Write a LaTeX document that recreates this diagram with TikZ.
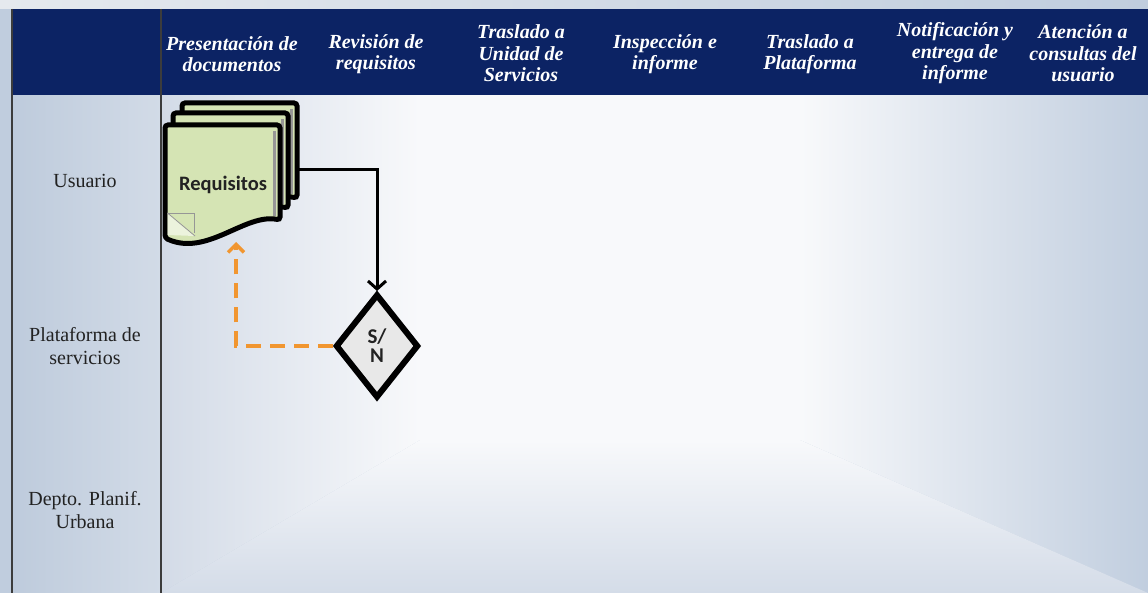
\documentclass[tikz,border=0pt]{standalone}
\usepackage{fontspec}
\usepackage{tikz}
\usetikzlibrary{calc}
\usetikzlibrary{arrows.meta}
\usetikzlibrary{shapes.geometric}
\usetikzlibrary{positioning}
\setmainfont{Liberation Serif}
\newfontfamily\calibri{Carlito}
\definecolor{midnight}{RGB}{12, 35, 100}
\definecolor{mist}{RGB}{248, 249, 251}
\definecolor{steel}{RGB}{192, 205, 222}
\definecolor{edgeleft}{RGB}{211, 219, 231}
\definecolor{edgeright}{RGB}{193, 206, 223}
\definecolor{edgebottom}{RGB}{212, 220, 232}
\definecolor{lanedark}{RGB}{190, 203, 220}
\definecolor{lanelight}{RGB}{210, 219, 231}
\definecolor{cloud}{RGB}{229, 233, 238}
\definecolor{pistachio}{RGB}{213, 228, 180}
\definecolor{carrot}{RGB}{241, 150, 48}
\definecolor{silver}{RGB}{232, 232, 232}
\definecolor{ash}{RGB}{150, 150, 150}
\definecolor{ink}{RGB}{34, 34, 34}
\definecolor{rule}{RGB}{60, 60, 60}

\tikzset{
    lanehead/.style={text=white, align=center, font=\bfseries\itshape\fontsize{20}{21.5}\selectfont},
    lanename/.style={text=ink, align=center, font=\fontsize{20}{23}\selectfont},
    pagestyle/.style={draw=black, fill=pistachio, line width=5pt, rounded corners=3pt},
    doclabel/.style={text=ink, font=\calibri\bfseries\fontsize{20.5}{22}\selectfont},
    decision/.style={diamond, draw=black, fill=silver, line width=6pt, minimum width=83pt, minimum height=104pt,
        inner sep=0pt, align=center, text=ink, font=\calibri\bfseries\fontsize{21}{19}\selectfont},
    flow/.style={draw=black, line width=3pt, -{Straight Barb[length=8pt, width=18pt]}},
    returnflow/.style={draw=carrot, line width=3.5pt, dash pattern=on 15pt off 9pt, -{Straight Barb[length=8pt, width=16pt]}}
}

% one sheet of the document stack, top left corner at (#1,#2)
\newcommand{\docpage}[2]{%
    \begin{scope}[shift={(#1,#2)}]
        \filldraw[pagestyle] (0,113) -- (0,0) -- (115,0) -- (115,95) .. controls (80,88) and (42,132) .. (0,113) -- cycle;
        \draw[ash, line width=3pt] (109.5,6) -- (109.5,91);
    \end{scope}}

\begin{document}
\begin{tikzpicture}[x=1pt, y=-1pt]
    \useasboundingbox (0,0) rectangle (1148,593);
    % background and lanes
    \fill[steel] (0,0) rectangle (1148,593);
    \fill[left color=cloud, right color=steel] (0,0) rectangle (1148,9);
    \fill[left color=lanedark, right color=lanelight] (12,95) rectangle (161,593);
    \fill[mist] (420,95) rectangle (800,440);
    \shade[left color=edgeleft, right color=mist] (161,95) -- (420,95) -- (420,440) -- (161,593) -- cycle;
    \shade[left color=mist, right color=edgeright] (800,95) -- (1148,95) -- (1148,593) -- (800,440) -- cycle;
    \shade[top color=mist, bottom color=edgebottom] (161,593) -- (420,440) -- (800,440) -- (1148,593) -- cycle;
    \fill[midnight] (12,9) rectangle (1148,95);
    \draw[rule, line width=1.2pt] (12,9) -- (12,593);
    \draw[rule, line width=1.2pt] (161,9) -- (161,593);

    % column heads
    \node[lanehead] (hpres) at (232,54)   {Presentación de\\documentos};
    \node[lanehead] (hrev)  at (376,54)   {Revisión de\\requisitos};
    \node[lanehead] (htra)  at (521,53.5) {Traslado a\\Unidad de\\Servicios};
    \node[lanehead] (hins)  at (665,54)   {Inspección e\\informe};
    \node[lanehead] (hpla)  at (810,54)   {Traslado a\\Plataforma};
    \node[lanehead] (hnot)  at (955,53.5) {Notificación y\\entrega de\\informe};
    \node[lanehead] (hate)  at (1083,53.5) {Atención a\\consultas del\\usuario};

    % lane names
    \node[lanename] (lusu) at (85,181) {Usuario};
    \node[lanename] (lpla) at (85,346) {Plataforma de\\servicios};
    \node[lanename] (ldep) at (85,510) {Depto. Planif.\\Urbana};

    % document stack
    \docpage{182}{103}
    \docpage{173}{113}
    \docpage{165}{125}
    \begin{scope}[shift={(165,125)}]
        \fill[white!55!pistachio] (2.5,88) -- (30,111) -- (2.5,110) -- cycle;
        \draw[ash, line width=0.8pt] (2.5,88) -- (29,88) -- (29,108);
        \draw[ash, line width=0.8pt] (2.5,88) -- (30,111);
    \end{scope}
    \node[doclabel] (req) at (223,185) {Requisitos};
    \coordinate (reqout) at (297,170);
    \coordinate (reqin) at (236,242);

    % decision
    \node[decision] (sn) at (377,346) {S/\\N};

    \draw[flow] (reqout) -| (sn.north);
    \draw[returnflow] (sn.west) -| (reqin);
\end{tikzpicture}
\end{document}
